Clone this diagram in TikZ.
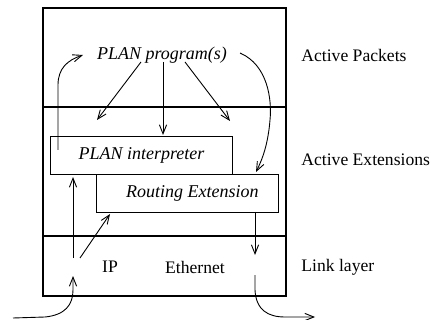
\documentclass[tikz,border=0pt]{standalone}
\usepackage{fontspec}
\setmainfont{Liberation Serif}
\usetikzlibrary{arrows.meta}

\begin{document}
\begin{tikzpicture}[x=0.5pt, y=-0.5pt,
    lab/.style={font=\fontsize{8.8}{11}\selectfont},
    side/.style={lab, inner sep=0pt, anchor=west},
    prog/.style={font=\fontsize{9}{11}\selectfont\itshape},
    layer/.style={draw, line width=0.8pt, inner sep=0pt, anchor=north west, minimum width=121.5pt},
    unit/.style={draw, line width=0.45pt, inner sep=0pt, anchor=north west, minimum width=91pt, minimum height=19pt},
    flow/.style={-{Straight Barb[length=4.5pt, width=3.6pt]}, line width=0.45pt}]

  \useasboundingbox (0,0) rectangle (433,320);

  % ---- the three layers --------------------------------------------------
  \node[layer, minimum height=49.5pt] (pkt) at (42,7) {};
  \node[layer, minimum height=64.5pt] (ext) at (42,106) {};
  \node[layer, minimum height=30pt]   (link) at (42,235) {};

  \node[side] (pktlab)  at (301,55)  {Active Packets};
  \node[side] (extlab)  at (301,160) {Active Extensions};
  \node[side] (linklab) at (301,267) {Link layer};

  % ---- contents -----------------------------------------------------------
  \node[prog] (plan) at (162,55) {PLAN program(s)};
  \node[unit, prog] (interp) at (50,136) {PLAN interpreter};
  \node[unit, prog] (routing) at (96,174) {\hspace*{5pt}Routing Extension};
  \node[lab] (ip) at (110,267) {IP};
  \node[lab] (eth) at (195,267) {Ethernet};

  % free ends of the connectors
  \coordinate (pA) at (141,62);  \coordinate (pB) at (163,62);  \coordinate (pC) at (185,62);
  \coordinate (iA) at (97,120);  \coordinate (iB) at (163,135); \coordinate (iC) at (230,121);
  \coordinate (upS) at (58,150);  \coordinate (upE) at (83,55);
  \coordinate (rtS) at (240,53);  \coordinate (rtE) at (256,172);
  \coordinate (dnS) at (255,212); \coordinate (dnE) at (255,255);
  \coordinate (outS) at (255,275); \coordinate (outE) at (315,317);
  \coordinate (inS) at (13,318);  \coordinate (inE) at (73,276);
  \coordinate (ipS) at (73,258);  \coordinate (ipE) at (73,177);
  \coordinate (ipR) at (80,258);  \coordinate (reE) at (110,214);

  % ---- arrows -------------------------------------------------------------
  \draw[flow] (pA) -- (iA);
  \draw[flow] (pB) -- (iB);
  \draw[flow] (pC) -- (iC);
  \draw[flow] (upS) -- (58,85) .. controls (58,68) and (68,60) .. (upE);
  \draw[flow] (rtS) .. controls (268,65) and (272,100) .. (270,120)
                    .. controls (268,145) and (262,160) .. (rtE);
  \draw[flow] (dnS) -- (dnE);
  \draw[flow] (outS) -- (255,290) .. controls (256,310) and (268,317) .. (285,317) -- (outE);
  \draw[flow] (inS) -- (45,317) .. controls (65,315) and (73,305) .. (73,290) -- (inE);
  \draw[flow] (ipS) -- (ipE);
  \draw[flow] (ipR) -- (reE);
\end{tikzpicture}
\end{document}
